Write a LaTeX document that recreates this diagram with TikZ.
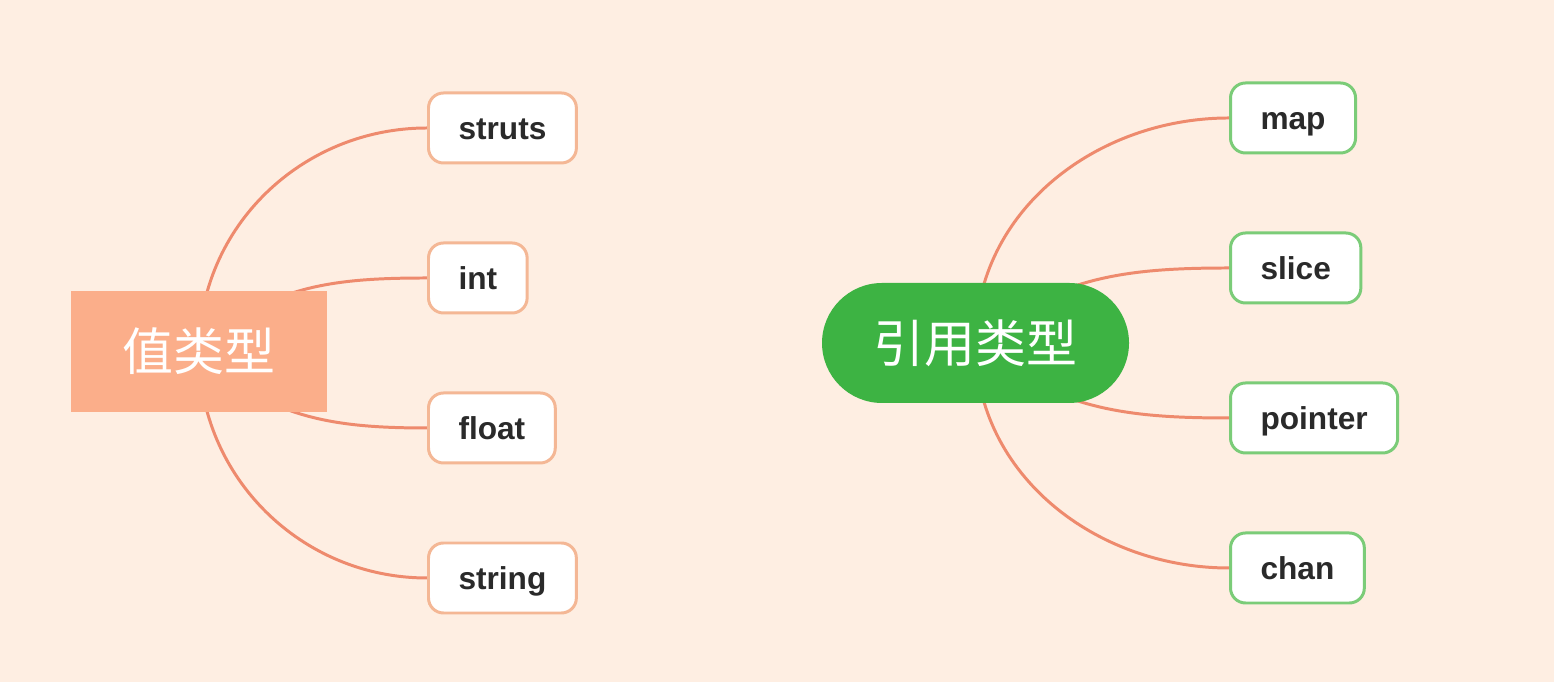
\documentclass[tikz,border=0pt]{standalone}
\usepackage{fontspec}
\setmainfont{Liberation Sans}
\newfontfamily\cjk{Noto Sans CJK SC}
\usepackage{tikz}
\usepackage{xcolor}

\definecolor{bgpeach}{HTML}{FEEEE2}
\definecolor{valfill}{HTML}{FBAE8A}
\definecolor{valedge}{HTML}{F4B795}
\definecolor{refgreen}{HTML}{3DB343}
\definecolor{refedge}{HTML}{7BCC78}
\definecolor{branch}{HTML}{EE8A6D}
\definecolor{leaftext}{HTML}{2A2A2A}

\pgfdeclarelayer{bg}
\pgfdeclarelayer{lines}
\pgfsetlayers{bg,lines,main}

\tikzset{
    leaf/.style={draw, fill=white, line width=0.85pt, rounded corners=0.15cm,
                 anchor=west, minimum height=0.7cm, inner xsep=0.3cm,
                 text height=1.7ex, text depth=0.5ex,
                 text=leaftext, font=\bfseries\fontsize{9}{11}\selectfont},
    valleaf/.style={leaf, draw=valedge},
    refleaf/.style={leaf, draw=refedge},
    branchline/.style={draw=branch, line width=0.85pt}
}

\begin{document}
\begin{tikzpicture}
        \begin{pgfonlayer}{bg}
            \fill[bgpeach] (0,0) rectangle (15.54,6.82);
        \end{pgfonlayer}
        % value types
        \node[fill=valfill, minimum width=2.56cm, minimum height=1.21cm,
              text=white, font=\cjk\fontsize{14.5}{16}\selectfont]
              (valroot) at (1.99,3.305) {值类型};
        \foreach \name/\y/\ang in {struts/5.54/90, int/4.04/45,
                                   float/2.54/-45, string/1.04/-90} {
            \node[valleaf] (\name) at (4.27,\y) {\name};
            \begin{pgfonlayer}{lines}
                \draw[branchline] (valroot.center) to[out=\ang, in=180] (\name.west);
            \end{pgfonlayer}
        }
        % reference types
        \node[fill=refgreen, rounded corners=0.6cm, minimum width=3.07cm,
              minimum height=1.2cm, text=white,
              font=\cjk\fontsize{14.5}{16}\selectfont]
              (refroot) at (9.755,3.39) {引用类型};
        \foreach \name/\y/\ang in {map/5.64/90, slice/4.14/40,
                                   pointer/2.64/-40, chan/1.14/-90} {
            \node[refleaf] (\name) at (12.29,\y) {\name};
            \begin{pgfonlayer}{lines}
                \draw[branchline] (refroot.center) to[out=\ang, in=180] (\name.west);
            \end{pgfonlayer}
        }
        \end{tikzpicture}
\end{document}
